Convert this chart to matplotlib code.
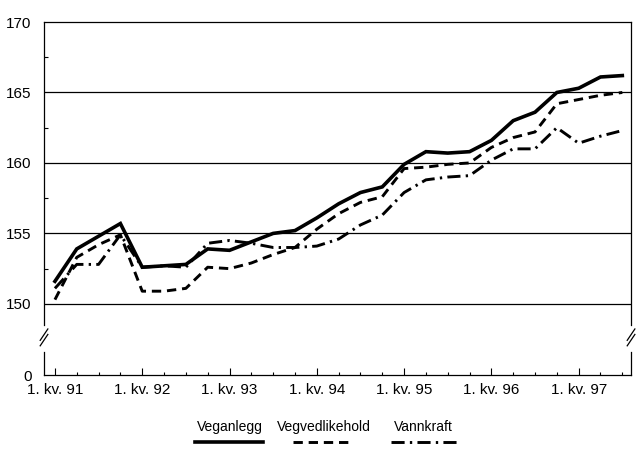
import numpy as np
import matplotlib
matplotlib.use("Agg")
import matplotlib.pyplot as plt
from matplotlib.lines import Line2D

# ============================================================
# DATA (quarterly index, 1. kv. 1991 - 3. kv. 1997)
# ============================================================

years = ["91", "92", "93", "94", "95", "96", "97"]

veganlegg = [151.6, 153.9, 154.8, 155.7, 152.6, 152.7, 152.8, 153.9, 153.8,
             154.4, 155.0, 155.2, 156.1, 157.1, 157.9, 158.3, 159.9, 160.8,
             160.7, 160.8, 161.6, 163.0, 163.6, 165.0, 165.3, 166.1, 166.2]

vegvedlikehold = [150.3, 153.3, 154.2, 154.9, 150.9, 150.9, 151.1, 152.6, 152.5,
                  152.9, 153.5, 154.0, 155.3, 156.4, 157.2, 157.6, 159.6, 159.7,
                  159.9, 160.0, 161.1, 161.8, 162.2, 164.2, 164.5, 164.8, 165.0]

vannkraft = [151.1, 152.8, 152.8, 154.9, 152.6, 152.7, 152.6, 154.3, 154.5,
             154.3, 154.0, 154.0, 154.1, 154.6, 155.6, 156.3, 157.9, 158.8,
             159.0, 159.1, 160.2, 161.0, 161.0, 162.5, 161.4, 161.9, 162.3]

series_names = ["Veganlegg", "Vegvedlikehold", "Vannkraft"]

# ============================================================
# STYLE
# ============================================================

plt.rcParams["font.family"] = ["Liberation Sans", "DejaVu Sans"]
FS = 11
FS_LEG = 10
LW_GRID = 0.9
styles = [
    dict(color="black", lw=2.6, linestyle="-"),
    dict(color="black", lw=2.1, linestyle=(0, (3.2, 2.0))),
    dict(color="black", lw=2.1, linestyle=(0, (4.5, 1.8, 0.8, 1.8))),
]

q = np.arange(len(veganlegg))
x_min, x_max = -0.5, 26.4

# ============================================================
# PLOT
# ============================================================

fig = plt.figure(figsize=(6.38, 4.55), dpi=100)
ax = fig.add_axes([0.0690, 0.2857, 0.9201, 0.6659])
ax0 = fig.add_axes([0.0690, 0.1758, 0.9201, 0.0505])

for vals, st, name in zip([veganlegg, vegvedlikehold, vannkraft], styles, series_names):
    ax.plot(q, vals, label=name, solid_joinstyle="miter", **st)

# upper axes
ax.set_xlim(x_min, x_max)
ax.set_ylim(148.5, 170)
ax.set_yticks([150, 155, 160, 165, 170])
ax.set_yticks([152.5, 157.5, 162.5, 167.5], minor=True)
ax.tick_params(axis="y", which="major", length=0, pad=9, labelsize=FS)
ax.tick_params(axis="y", which="minor", direction="in", length=3, width=0.8)
ax.set_xticks([])
for v in [150, 155, 160, 165]:
    ax.axhline(v, color="black", lw=LW_GRID, zorder=0)
ax.spines["bottom"].set_visible(False)
for s in ["left", "right", "top"]:
    ax.spines[s].set_linewidth(LW_GRID)

# lower axes (zero level)
ax0.set_xlim(x_min, x_max)
ax0.set_ylim(0, 1.63)
ax0.set_yticks([0])
ax0.tick_params(axis="y", length=0, pad=9, labelsize=FS)
ax0.spines["top"].set_visible(False)
for s in ["left", "right", "bottom"]:
    ax0.spines[s].set_linewidth(LW_GRID)
ax0.set_xticks(np.arange(0, len(veganlegg), 4))
ax0.set_xticklabels([f"1. kv. {y}" for y in years])
ax0.set_xticks(np.arange(0, len(veganlegg)), minor=True)
ax0.tick_params(axis="x", which="major", direction="in", length=5, width=0.8,
                pad=6, labelsize=FS)
ax0.tick_params(axis="x", which="minor", direction="in", length=2.5, width=0.8)

# axis break marks
for xa in [0.0, 1.0]:
    for dy in [0.0, 0.012]:
        fig.add_artist(Line2D([0.0690 + xa * 0.9201 - 0.006, 0.0690 + xa * 0.9201 + 0.006],
                              [0.240 + dy, 0.265 + dy], color="black", lw=0.9))

# legend drawn below the chart
leg_text_x = [0.3605, 0.508, 0.663]
leg_line_x = [(0.3056, 0.4122), (0.4592, 0.5533), (0.6129, 0.7179)]
for name, st, tx, (l0, l1) in zip(series_names, styles, leg_text_x, leg_line_x):
    fig.text(tx, 0.0615, name, ha="center", va="center", fontsize=FS_LEG)
    fig.add_artist(Line2D([l0, l1], [0.0286, 0.0286], **st))

fig.savefig("out.png", dpi=100)
